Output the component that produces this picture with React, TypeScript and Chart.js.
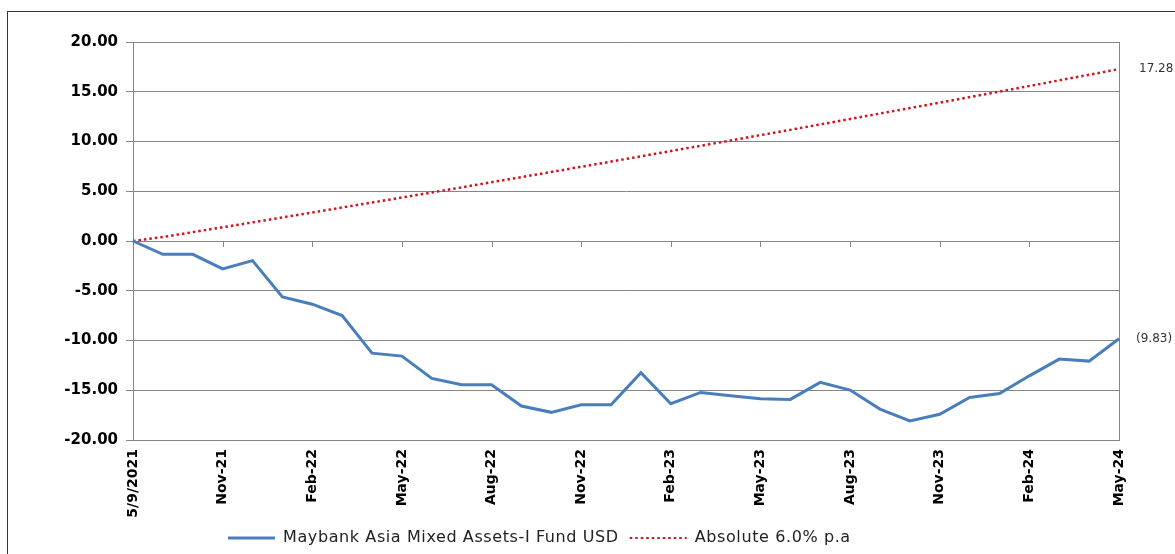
import React, { useEffect, useRef } from "react";
import { Chart, registerables } from "chart.js";

Chart.register(...registerables);

const categories = [
  "5/9/2021", "Sep-21", "Oct-21", "Nov-21", "Dec-21", "Jan-22", "Feb-22", "Mar-22", "Apr-22",
  "May-22", "Jun-22", "Jul-22", "Aug-22", "Sep-22", "Oct-22", "Nov-22", "Dec-22", "Jan-23",
  "Feb-23", "Mar-23", "Apr-23", "May-23", "Jun-23", "Jul-23", "Aug-23", "Sep-23", "Oct-23",
  "Nov-23", "Dec-23", "Jan-24", "Feb-24", "Mar-24", "Apr-24", "May-24",
];

const fundValues = [
  0, -1.34, -1.34, -2.81, -1.97, -5.62, -6.35, -7.49, -11.27, -11.57, -13.81, -14.45,
  -14.45, -16.59, -17.22, -16.45, -16.45, -13.24, -16.35, -15.22, -15.55, -15.85, -15.92,
  -14.21, -14.98, -16.89, -18.09, -17.42, -15.72, -15.32, -13.55, -11.87, -12.07, -9.83,
];

const benchmarkValues = [
  0, 0.4, 0.89, 1.38, 1.87, 2.37, 2.86, 3.37, 3.87, 4.37, 4.88, 5.39, 5.91, 6.42, 6.94,
  7.46, 7.98, 8.51, 9.04, 9.57, 10.1, 10.64, 11.17, 11.72, 12.26, 12.81, 13.36, 13.91,
  14.46, 15.02, 15.58, 16.14, 16.71, 17.28,
];

const seriesNames = ["Maybank Asia Mixed Assets-I Fund USD", "Absolute 6.0% p.a"];
const yTicks = { min: -20, max: 20, step: 5 };
const labelEvery = 3;

const fmtEnd = (v: number) => (v < 0 ? `(${Math.abs(v).toFixed(2)})` : v.toFixed(2));

export default function App() {
  const ref = useRef<HTMLCanvasElement | null>(null);

  useEffect(() => {
    if (!ref.current) return;
    const overlay = {
      id: "overlay",
      beforeDatasetsDraw(chart: any) {
        const { ctx, scales } = chart;
        const x = scales.x;
        const y = scales.y;
        const y0 = Math.round(y.getPixelForValue(0));
        ctx.save();
        ctx.strokeStyle = "#868686";
        ctx.lineWidth = 1;
        categories.forEach((_c, i) => {
          if (i % labelEvery === 0) {
            const px = Math.round(x.getPixelForValue(i)) + 0.5;
            ctx.beginPath();
            ctx.moveTo(px, y0);
            ctx.lineTo(px, y0 + 6);
            ctx.stroke();
          }
        });
        ctx.restore();
      },
      afterDatasetsDraw(chart: any) {
        const { ctx, scales } = chart;
        const x = scales.x;
        const y = scales.y;
        const last = categories.length - 1;
        ctx.save();
        ctx.font = "12px 'DejaVu Sans'";
        ctx.fillStyle = "#333";
        ctx.textAlign = "left";
        ctx.textBaseline = "middle";
        const lx = x.getPixelForValue(last);
        ctx.fillText(fmtEnd(benchmarkValues[last]), lx + 20, y.getPixelForValue(benchmarkValues[last]));
        ctx.fillText(fmtEnd(fundValues[last]), lx + 17, y.getPixelForValue(fundValues[last]));
        ctx.restore();
      },
      afterDraw(chart: any) {
        // custom legend
        const { ctx } = chart;
        const ly = 538;
        let cx = 228;
        const samples = [47, 57];
        ctx.save();
        ctx.font = "16px 'DejaVu Sans'";
        (ctx as any).letterSpacing = "0.6px";
        ctx.textBaseline = "middle";
        ctx.textAlign = "left";
        chart.data.datasets.forEach((ds: any, i: number) => {
          ctx.save();
          ctx.strokeStyle = ds.borderColor;
          ctx.lineWidth = i === 0 ? 3 : 2.2;
          ctx.setLineDash(ds.borderDash || []);
          ctx.beginPath();
          ctx.moveTo(cx, ly);
          ctx.lineTo(cx + samples[i], ly);
          ctx.stroke();
          ctx.restore();
          cx += samples[i] + 8;
          ctx.fillStyle = "#222";
          ctx.fillText(ds.label, cx, ly);
          cx += ctx.measureText(ds.label).width + 11;
        });
        ctx.restore();
      },
    };

    const chart = new Chart(ref.current, {
      type: "line",
      data: {
        labels: categories,
        datasets: [
          {
            label: seriesNames[0],
            data: fundValues,
            borderColor: "#4A7EBB",
            backgroundColor: "#4A7EBB",
            borderWidth: 3,
            pointRadius: 0,
            tension: 0,
          },
          {
            label: seriesNames[1],
            data: benchmarkValues,
            borderColor: "#D0141E",
            backgroundColor: "#D0141E",
            borderWidth: 2.5,
            borderDash: [2.5, 3],
            pointRadius: 0,
            tension: 0,
          },
        ],
      },
      plugins: [overlay],
      options: {
        animation: false,
        responsive: false,
        devicePixelRatio: 1,
        layout: { padding: { left: 0, right: 56, top: 42, bottom: 0 } },
        plugins: {
          tooltip: { enabled: false },
          legend: { display: false },
        },
        scales: {
          x: {
            type: "category",
            offset: false,
            afterFit: (s: any) => {
              s.height = 114;
            },
            grid: {
              drawTicks: false,
              color: (c: any) => (c.index === categories.length - 1 ? "#868686" : "transparent"),
            },
            border: { color: "#868686" },
            ticks: {
              autoSkip: false,
              minRotation: 90,
              maxRotation: 90,
              padding: 9,
              color: "#000",
              font: { family: "'DejaVu Sans'", size: 14, weight: "bold" },
              callback: (_v: any, i: number) => (i % labelEvery === 0 ? categories[i] : ""),
            },
          },
          y: {
            min: yTicks.min,
            max: yTicks.max,
            afterFit: (s: any) => {
              s.width = 133;
            },
            grid: { color: "#868686", tickLength: 7, tickColor: "#868686" },
            border: { color: "#868686" },
            ticks: {
              stepSize: yTicks.step,
              padding: 8,
              color: "#000",
              font: { family: "'DejaVu Sans'", size: 15, weight: "bold" },
              callback: (v: any) => Number(v).toFixed(2),
            },
          },
        },
      },
    });
    return () => chart.destroy();
  }, []);

  return (
    <div style={{ position: "fixed", left: 0, top: 0, width: 1175, height: 554, background: "#fff" }}>
      <div
        style={{
          position: "absolute",
          left: 7,
          top: 11,
          width: 1168,
          height: 543,
          borderTop: "1px solid #333",
          borderLeft: "1px solid #333",
        }}
      />
      <canvas ref={ref} width={1175} height={554} style={{ position: "absolute", left: 0, top: 0 }} />
    </div>
  );
}
